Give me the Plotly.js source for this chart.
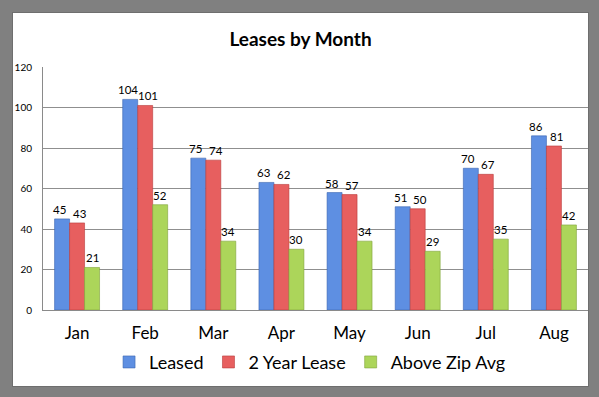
<!DOCTYPE html>
<html>
<head>
<meta charset="utf-8">
<script src="https://cdn.plot.ly/plotly-3.0.1.min.js"></script>
<style>
html,body{margin:0;padding:0;background:#808080;width:599px;height:397px;overflow:hidden;}
#frame{position:absolute;left:12px;top:12px;width:577px;height:375px;background:#6e6e6e;}
#chart{position:absolute;left:13px;top:13px;width:575px;height:373px;background:#fff;}
</style>
</head>
<body>
<div id="frame"></div>
<div id="chart"></div>
<script>
const months = ["Jan","Feb","Mar","Apr","May","Jun","Jul","Aug"];
const leased = [45,104,75,63,58,51,70,86];
const twoYear = [43,101,74,62,57,50,67,81];
const aboveZip = [21,52,34,30,34,29,35,42];
const seriesNames = ["Leased","2 Year Lease","Above Zip Avg"];
const yTicks = [0,20,40,60,80,100,120];

const series = [leased, twoYear, aboveZip];
const colors = ["#5e8fe2","#e75f5f","#acd55a"];
const lines = ["#3a64b0","#b83a3a","#7fa23a"];
const data = series.map((vals,i)=>({
  type:"bar", x:months, y:vals, name:seriesNames[i],
  marker:{color:colors[i], line:{color:lines[i], width:0.6}}
}));

// value labels placed through the axes, offset to each bar of the group
const W = 575, ML = 30, MR = 0, BARGAP = 0.34;
const catPx = (W - ML - MR) / months.length;
const barPx = catPx * (1 - BARGAP) / series.length;
const annotations = [];
series.forEach((vals,i)=>{
  vals.forEach((v,j)=>{
    let nudge = 0;
    // separate labels that would touch when neighbouring values are close
    if (i === 0 && series[1][j] > v - 8 && v >= series[1][j]) nudge = -2.5;
    if (i === 1 && series[0][j] < v + 8 && series[0][j] >= v) nudge = 2.5;
    annotations.push({x:months[j], y:v, text:String(v), showarrow:false,
      xanchor:"center", yanchor:"bottom", yshift:1,
      xshift:(i-1)*barPx + nudge,
      font:{family:"Lato, 'Open Sans', sans-serif", size:11.5, color:"#000"}});
  });
});

const layout = {
  width:W, height:373,
  paper_bgcolor:"#fff", plot_bgcolor:"#fff",
  margin:{l:ML,r:MR,t:54,b:76},
  barmode:"group", bargap:BARGAP, bargroupgap:0,
  annotations,
  title:{text:"<b>Leases by Month</b>", x:0.5, xanchor:"center", y:0.93, yanchor:"middle",
    font:{family:"Lato, 'Open Sans', sans-serif", size:19, color:"#000"}},
  font:{family:"Lato, 'Open Sans', sans-serif", color:"#000"},
  xaxis:{showgrid:false, showline:true, linecolor:"#8a8a8a", linewidth:1,
    tickfont:{size:17, color:"#000"}, ticks:"", ticklabelstandoff:8},
  yaxis:{range:[0,120], tickvals:yTicks, ticktext:yTicks.map(String), showgrid:true, gridcolor:"#8f8f8f", gridwidth:1,
    showline:true, linecolor:"#8a8a8a", zeroline:false, ticks:"",
    tickfont:{size:10, color:"#000"}, ticklabelstandoff:8},
  legend:{orientation:"h", x:0.49, xanchor:"center", y:-0.215, yanchor:"middle",
    font:{size:18, color:"#000"}, itemwidth:30, traceorder:"normal"},
  showlegend:true
};
Plotly.newPlot("chart", data, layout, {displayModeBar:false, staticPlot:true});
</script>
</body>
</html>
